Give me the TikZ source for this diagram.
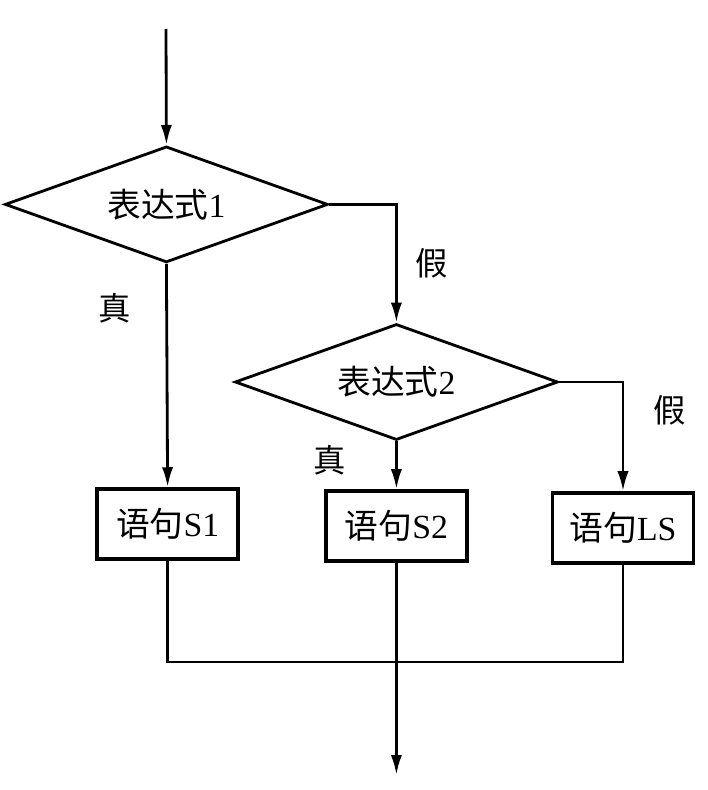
\documentclass[tikz,border=0pt]{standalone}
\usepackage{fontspec}
\setmainfont{Liberation Serif}
\newfontfamily\cjk{Noto Sans CJK SC}
\usepackage{tikz}
\usetikzlibrary{shapes.geometric, arrows.meta, positioning}

\begin{document}
\begin{tikzpicture}[
    cond/.style  = {diamond, aspect=2.8, draw=black, line width=2pt, minimum width=8.075cm,
                    minimum height=2.9cm, inner sep=0pt, align=center,
                    font=\fontsize{24}{28}\selectfont},
    stmt/.style  = {rectangle, draw=black, line width=2.5pt, minimum width=3.525cm,
                    minimum height=1.75cm, inner sep=0pt, align=center,
                    font=\fontsize{24}{28}\selectfont},
    lbl/.style   = {font=\fontsize{23}{27}\selectfont\cjk},
    arr/.style   = {-{Latex[length=0.5cm, width=0.28cm]}, line width=2pt},
    ln/.style    = {line width=2pt}
  ]
  \useasboundingbox (0,0) rectangle (17.7,-19.75);

  % ── Conditions ───────────────────────────────────────────────────────────
  \coordinate (in) at (4.15, -0.725);
  \node[cond] (c1) at (4.16, -5.11) {{\cjk 表达式}1};
  \node[cond] (c2) at (9.91, -9.55) {{\cjk 表达式}2};

  % ── Statements ───────────────────────────────────────────────────────────
  \node[stmt] (s1) at (4.19, -13.1)  {{\cjk 语句}S1};
  \node[stmt] (s2) at (9.91, -13.15) {{\cjk 语句}S2};
  \node[stmt] (ls) at (15.575, -13.2) {{\cjk 语句}LS};

  % ── Branch labels ────────────────────────────────────────────────────────
  \node[lbl] (t1) at (2.875, -7.7)   {真};
  \node[lbl] (f1) at (10.8, -6.575)  {假};
  \node[lbl] (t2) at (8.25, -11.5)   {真};
  \node[lbl] (f2) at (16.75, -10.25) {假};

  % ── Connectors ───────────────────────────────────────────────────────────
  \draw[arr] (in) -- (c1.north);
  \draw[arr] (c1.south) -- (s1.north);                 % 真
  \draw[arr] (c1.east) -| (c2.north);                  % 假
  \draw[arr] (c2.south) -- (s2.north);                 % 真
  \draw[arr] (c2.east) -| (ls.north);                  % 假

  % ── Merge ────────────────────────────────────────────────────────────────
  \coordinate (join) at (4.19, -16.55);
  \coordinate (out)  at (9.91, -19.375);
  \draw[ln] (s1.south) -- (join) -| (ls.south);
  \draw[arr] (s2.south) -- (out);
\end{tikzpicture}
\end{document}
